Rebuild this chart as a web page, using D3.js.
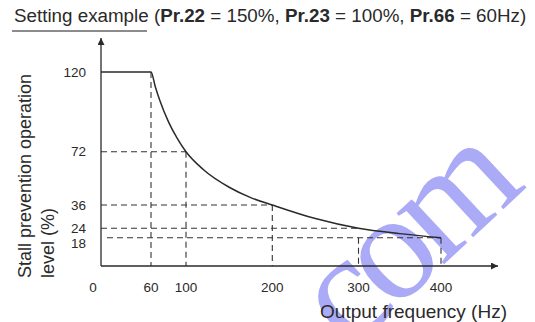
<!DOCTYPE html>
<html><head><meta charset="utf-8">
<script src="https://cdn.jsdelivr.net/npm/d3@7"></script>
<style>
html,body{margin:0;padding:0;background:#fff;}
svg{display:block;font-family:"Liberation Sans",Arial,sans-serif;}
</style></head>
<body>
<script>
// ---- data ----
const freqTicks = [0, 60, 100, 200, 300, 400];
const levelTicks = [18, 24, 36, 72, 120];
const curveFreq  = [0, 60, 65, 70, 80, 90, 100, 120, 150, 175, 200, 250, 300, 350, 400];
const curveLevel = [120, 120, 111, 103, 90, 80, 72, 60, 48, 41, 36, 29, 24, 20.6, 18];
const guideFreq  = [60, 100, 200, 300, 400];
const guideTopLevel = [120, 72, 36, 18, 18];
const hGuideLevel = [72, 36, 24, 18];
const hGuideEndFreq = [100, 200, 300, 400];
const titlePlain = "Setting example";
const titleParts = [["Pr.22", " = 150%, "], ["Pr.23", " = 100%, "], ["Pr.66", " = 60Hz)"]];
const yTitle = ["Stall prevention operation", "level (%)"];
const xTitle = "Output frequency (Hz)";

const W = 535, H = 322;
const svg = d3.select("body").append("svg").attr("width", W).attr("height", H);

// watermark (below everything)
svg.append("text")
  .attr("transform", "translate(350,352) rotate(-43)")
  .attr("font-family", "'Liberation Serif','Times New Roman',serif")
  .attr("font-size", 152)
  .attr("letter-spacing", -9)
  .attr("fill", "#aaaaf6")
  .text("com");

const x = d3.scaleLinear().domain([0, 60, 100, 200, 300, 400]).range([101, 151, 186, 272.3, 358.5, 441]);
const y = d3.scaleLinear().domain([0, 18, 24, 36, 72, 120]).range([266, 237.7, 228.3, 205, 151.7, 72]);

const ink = "#2a2a2a";

const g = svg.append("g").attr("stroke", "#333").attr("stroke-width", 1.1).attr("stroke-dasharray", "6,4").attr("fill", "none");
guideFreq.forEach((f, i) => {
  g.append("line").attr("x1", x(f)).attr("x2", x(f)).attr("y1", y(guideTopLevel[i])).attr("y2", y(0));
});
hGuideLevel.forEach((l, i) => {
  const x0 = l === 18 ? x(0) + 6 : x(0);
  g.append("line").attr("x1", x0).attr("x2", x(hGuideEndFreq[i])).attr("y1", y(l)).attr("y2", y(l));
});

const defs = svg.append("defs");
defs.append("marker").attr("id", "arr").attr("viewBox", "0 0 10 10").attr("refX", 10).attr("refY", 5)
  .attr("markerWidth", 9).attr("markerHeight", 7).attr("markerUnits", "userSpaceOnUse").attr("orient", "auto")
  .append("path").attr("d", "M0,0L10,5L0,10Z").attr("fill", ink);
svg.append("line").attr("x1", x(0)).attr("y1", y(0)).attr("x2", 498).attr("y2", y(0))
  .attr("stroke", ink).attr("stroke-width", 1.3).attr("marker-end", "url(#arr)");
svg.append("line").attr("x1", x(0)).attr("y1", y(0)).attr("x2", x(0)).attr("y2", 38)
  .attr("stroke", ink).attr("stroke-width", 1.3).attr("marker-end", "url(#arr)");

const pts = curveFreq.map((f, i) => [f, curveLevel[i]]);
svg.append("path").datum(pts)
  .attr("d", d3.line().x(d => x(d[0])).y(d => y(d[1])).curve(d3.curveMonotoneX))
  .attr("fill", "none").attr("stroke", ink).attr("stroke-width", 1.5);

const tickFont = 13.5;
let prevY = -100;
levelTicks.slice().sort((a, b) => b - a).forEach(v => {
  let py = y(v);
  if (py - prevY < 13) py = prevY + 14.5;
  prevY = py;
  svg.append("text").attr("x", 86).attr("y", py).attr("dy", "0.35em").attr("text-anchor", "end")
    .attr("font-size", tickFont).attr("fill", ink).text(v);
});
freqTicks.forEach(v => {
  svg.append("text").attr("x", v === 0 ? x(0) - 8 : x(v)).attr("y", 292).attr("text-anchor", "middle")
    .attr("font-size", tickFont).attr("fill", ink).text(v);
});

svg.append("text").attr("x", 507).attr("y", 318).attr("text-anchor", "end")
  .attr("font-size", 19).attr("fill", ink).text(xTitle);
yTitle.forEach((t, i) => {
  svg.append("text").attr("transform", `translate(${31 + i * 23},278) rotate(-90)`)
    .attr("font-size", 18).attr("fill", ink).text(t);
});

const tt = svg.append("text").attr("x", 14).attr("y", 22).attr("font-size", 18.8).attr("fill", ink);
tt.append("tspan").text(titlePlain + " (");
titleParts.forEach(p => {
  tt.append("tspan").attr("font-weight", "bold").text(p[0]);
  tt.append("tspan").text(p[1]);
});
svg.append("line").attr("x1", 12).attr("x2", 147).attr("y1", 31).attr("y2", 31)
  .attr("stroke", "#666").attr("stroke-width", 1.5);
</script>
</body></html>
